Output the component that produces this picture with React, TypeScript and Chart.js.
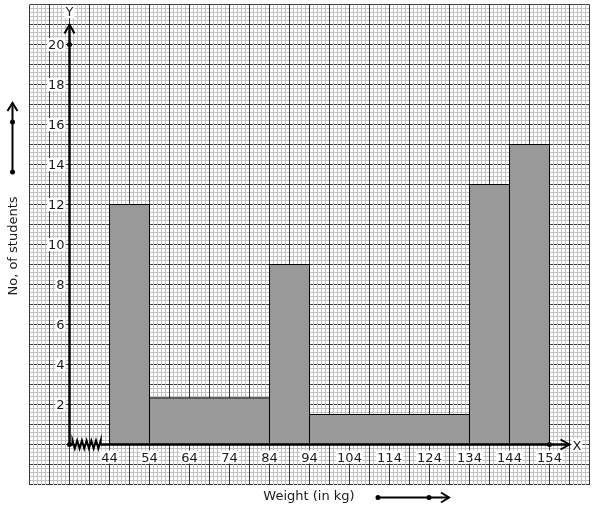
import React, { useEffect, useRef } from "react";
import { Chart, registerables } from "chart.js";

Chart.register(...registerables);

const binStarts = [44, 54, 84, 94, 134, 144];
const binEnds = [54, 84, 94, 134, 144, 154];
const barHeights = [12, 2.33, 9, 1.5, 13, 15];
const xTickValues = [44, 54, 64, 74, 84, 94, 104, 114, 124, 134, 144, 154];
const xTickLabels = ["44", "54", "64", "74", "84", "94", "104", "114", "124", "134", "144", "154"];
const yTickValues = [2, 4, 6, 8, 10, 12, 14, 16, 18, 20];
const yTickLabels = ["2", "4", "6", "8", "10", "12", "14", "16", "18", "20"];
const xAxisTitle = "Weight (in kg)";
const yAxisTitle = "No, of students";

const FONT = "13px 'DejaVu Sans'";
const MINOR = "#c2c2c2";
const MAJOR = "#383838";

function labelWithBg(ctx: CanvasRenderingContext2D, text: string, x: number, baseline: number, align: CanvasTextAlign) {
  ctx.font = FONT;
  const w = ctx.measureText(text).width;
  let left = x;
  if (align === "center") left = x - w / 2;
  else if (align === "right") left = x - w;
  ctx.fillStyle = "#ffffff";
  ctx.fillRect(left - 1, baseline - 11, w + 2, 13);
  ctx.fillStyle = "#1a1a1a";
  ctx.textAlign = align;
  ctx.textBaseline = "alphabetic";
  ctx.fillText(text, x, baseline);
}

const overlay = {
  id: "overlay",
  afterDraw(chart: any) {
    const ctx: CanvasRenderingContext2D = chart.ctx;
    const xs = chart.scales.x;
    const ys = chart.scales.y;
    const X = (v: number) => xs.getPixelForValue(v);
    const Y = (v: number) => ys.getPixelForValue(v);
    const ox = X(34);
    const oy = Y(0);
    ctx.save();
    ctx.strokeStyle = "#000";
    ctx.fillStyle = "#000";
    ctx.lineCap = "butt";
    // y axis
    ctx.lineWidth = 2.5;
    ctx.beginPath();
    ctx.moveTo(ox, oy);
    ctx.lineTo(ox, Y(21));
    ctx.stroke();
    // x axis (with break)
    ctx.beginPath();
    ctx.moveTo(ox, oy);
    ctx.lineTo(ox + 4, oy);
    ctx.moveTo(X(41.7), oy);
    ctx.lineTo(X(159), oy);
    ctx.stroke();
    // zigzag break
    ctx.lineWidth = 2;
    ctx.beginPath();
    const zx0 = ox + 3;
    const zx1 = X(41.8);
    const n = 12;
    ctx.moveTo(zx0, oy);
    for (let i = 0; i <= n; i++) {
      const px = zx0 + ((zx1 - zx0) * i) / n;
      const py = i % 2 === 0 ? oy - 4 : oy + 4;
      ctx.lineTo(px, py);
    }
    ctx.lineTo(zx1, oy);
    ctx.stroke();
    // arrow heads
    ctx.lineWidth = 2;
    const ty = Y(21);
    ctx.beginPath();
    ctx.moveTo(ox - 5, ty + 9);
    ctx.lineTo(ox, ty);
    ctx.lineTo(ox + 5, ty + 9);
    ctx.stroke();
    const tx = X(159);
    ctx.beginPath();
    ctx.moveTo(tx - 9, oy - 5);
    ctx.lineTo(tx, oy);
    ctx.lineTo(tx - 9, oy + 5);
    ctx.stroke();
    // dots
    const dot = (x: number, y: number) => {
      ctx.beginPath();
      ctx.arc(x, y, 2.5, 0, Math.PI * 2);
      ctx.fill();
    };
    dot(ox, oy);
    dot(ox, Y(20));
    dot(X(154), oy);
    // axis letters
    labelWithBg(ctx, "Y", ox, 16, "center");
    labelWithBg(ctx, "X", X(159) + 3, oy + 5, "left");
    // tick labels
    yTickValues.forEach((v, i) => labelWithBg(ctx, yTickLabels[i], ox - 5, Y(v) + 4.5, "right"));
    xTickValues.forEach((v, i) => labelWithBg(ctx, xTickLabels[i], X(v), oy + 17, "center"));
    // outer titles
    ctx.fillStyle = "#1a1a1a";
    ctx.font = FONT;
    ctx.textAlign = "center";
    ctx.textBaseline = "alphabetic";
    ctx.fillText(xAxisTitle, 309, 500);
    ctx.save();
    ctx.translate(17, 246);
    ctx.rotate(-Math.PI / 2);
    ctx.fillText(yAxisTitle, 0, 0);
    ctx.restore();
    // decorative arrows
    ctx.fillStyle = "#000";
    ctx.strokeStyle = "#000";
    ctx.lineWidth = 2;
    ctx.beginPath();
    ctx.moveTo(12.5, 172);
    ctx.lineTo(12.5, 103);
    ctx.stroke();
    ctx.beginPath();
    ctx.moveTo(7.5, 111);
    ctx.lineTo(12.5, 103);
    ctx.lineTo(17.5, 111);
    ctx.stroke();
    dot(12.5, 172);
    dot(12.5, 122);
    ctx.beginPath();
    ctx.moveTo(378, 497.5);
    ctx.lineTo(449, 497.5);
    ctx.stroke();
    ctx.beginPath();
    ctx.moveTo(441, 492.5);
    ctx.lineTo(449, 497.5);
    ctx.lineTo(441, 502.5);
    ctx.stroke();
    dot(378, 497.5);
    dot(429, 497.5);
    ctx.restore();
  },
};

export default function App() {
  const ref = useRef<HTMLCanvasElement | null>(null);
  useEffect(() => {
    if (!ref.current) return;
    const datasets = binStarts.map((s, i) => ({
      label: `${s}-${binEnds[i]}`,
      data: [
        { x: s, y: 0 },
        { x: s, y: barHeights[i] },
        { x: binEnds[i], y: barHeights[i] },
        { x: binEnds[i], y: 0 },
      ],
      borderColor: "#000000",
      borderWidth: 1,
      backgroundColor: "#999999",
      fill: "origin",
      pointRadius: 0,
      tension: 0,
    }));
    const chart = new Chart(ref.current, {
      type: "line",
      data: { datasets },
      options: {
        animation: false,
        responsive: false,
        devicePixelRatio: 1,
        layout: { padding: { left: 29.5, right: 4.5, top: 4.5, bottom: 25.5 } },
        plugins: { legend: { display: false }, tooltip: { enabled: false } },
        scales: {
          x: {
            type: "linear",
            min: 24,
            max: 164,
            ticks: { display: false, stepSize: 1 },
            border: { display: false },
            grid: {
              z: -1,
              drawTicks: false,
              lineWidth: 1,
              color: (c: any) => (Math.round(c.tick.value) % 5 === 4 ? MAJOR : MINOR),
            },
          },
          y: {
            type: "linear",
            min: -2,
            max: 22,
            ticks: { display: false, stepSize: 0.2 },
            border: { display: false },
            grid: {
              z: -2,
              drawTicks: false,
              lineWidth: 1,
              color: (c: any) => (Math.abs(c.tick.value - Math.round(c.tick.value)) < 1e-6 ? MAJOR : MINOR),
            },
          },
        },
      },
      plugins: [overlay],
    });
    return () => chart.destroy();
  }, []);
  return (
    <div style={{ position: "absolute", left: 0, top: 0, width: 594, height: 510, background: "#fff" }}>
      <canvas ref={ref} width={594} height={510} style={{ display: "block", width: 594, height: 510 }} />
    </div>
  );
}
